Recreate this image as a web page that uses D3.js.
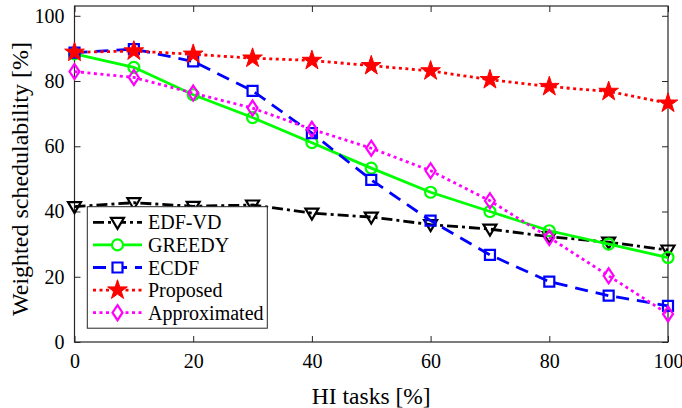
<!DOCTYPE html>
<html><head><meta charset="utf-8">
<script src="https://cdn.jsdelivr.net/npm/d3@7"></script>
<style>html,body{margin:0;padding:0;background:#fff;}svg{display:block;}
svg text{font-family:"Liberation Serif","DejaVu Serif",serif;}</style>
</head><body>
<svg id="chart" width="682" height="408"></svg>
<script>
const xValues = [0,10,20,30,40,50,60,70,80,90,100];
const xTicks = [0,20,40,60,80,100];
const yTicks = [0,20,40,60,80,100];
const seriesNames = ["EDF-VD","GREEDY","ECDF","Proposed","Approximated"];
const edfvd = [41.5,42.7,41.6,42,39.5,38.3,36,34.6,32.3,30.6,28.2];
const greedy = [88.3,84.2,75.8,68.8,61.1,53.3,45.9,40,34.1,30,25.9];
const ecdf = [88.7,89.8,86,77,64,49.7,37.2,26.7,18.5,14.2,11.1];
const proposed = [88.8,89.2,88.2,87,86.3,84.7,83.1,80.4,78.3,76.8,73.2];
const approximated = [82.9,81.1,76.3,71.7,65.2,59.4,52.5,43.3,32,20.3,8.6];
const xLabel = "HI tasks [%]";
const yLabel = "Weighted schedulability [%]";

const svg = d3.select("#chart");
const L = 74.5, R = 668, T = 6, B = 342;
const x = d3.scaleLinear().domain([0,100]).range([L,R]);
const y = d3.scaleLinear().domain([0,103]).range([B,T]);
const axisColor = "#262626";

// axes
const gx = svg.append("g").attr("transform",`translate(0,${B})`)
  .call(d3.axisBottom(x).tickValues(xTicks).tickSizeInner(-6).tickSizeOuter(0).tickPadding(12));
const gy = svg.append("g").attr("transform",`translate(${L},0)`)
  .call(d3.axisLeft(y).tickValues(yTicks).tickSizeInner(-6).tickSizeOuter(0).tickPadding(10));
const gxt = svg.append("g").attr("transform",`translate(0,${T})`)
  .call(d3.axisTop(x).tickValues(xTicks).tickSizeInner(-6).tickSizeOuter(0).tickFormat(""));
const gyr = svg.append("g").attr("transform",`translate(${R},0)`)
  .call(d3.axisRight(y).tickValues(yTicks).tickSizeInner(-6).tickSizeOuter(0).tickFormat(""));
[gx,gy,gxt,gyr].forEach(g=>{
  g.attr("font-family",null);
  g.select(".domain").remove();
  g.selectAll(".tick line").attr("stroke",axisColor).attr("stroke-width",1);
  g.selectAll("text").attr("font-size",20).attr("fill","#000");
});
// box
svg.append("rect").attr("x",L).attr("y",T).attr("width",R-L).attr("height",B-T)
  .attr("fill","none").attr("stroke",axisColor).attr("stroke-width",1.2);

// labels
svg.append("text").attr("x",(L+R)/2).attr("y",404).attr("text-anchor","middle")
  .attr("font-size",23.5).text(xLabel);
svg.append("text").attr("transform",`translate(28,${179}) rotate(-90)`).attr("text-anchor","middle")
  .attr("font-size",24).text(yLabel);

// marker shapes
function markerPath(type){
  if(type==="tri") return "M-6.5,-4.5L6.5,-4.5L0,6.5Z";
  if(type==="circle") return d3.symbol(d3.symbolCircle, Math.PI*5.5*5.5)();
  if(type==="square") return "M-5,-5L5,-5L5,5L-5,5Z";
  if(type==="star") return d3.symbol(d3.symbolStar, 120)();
  if(type==="diamond") return "M0,-7.5L5,0L0,7.5L-5,0Z";
}
const series = [
  {name:seriesNames[0], data:edfvd, color:"#000000", dash:"11,4,3,4", marker:"tri", fill:"none"},
  {name:seriesNames[1], data:greedy, color:"#00ff00", dash:null, marker:"circle", fill:"none"},
  {name:seriesNames[2], data:ecdf, color:"#0000ff", dash:"13,8", marker:"square", fill:"none"},
  {name:seriesNames[3], data:proposed, color:"#ff0000", dash:"3,3.5", marker:"star", fill:"#ff0000"},
  {name:seriesNames[4], data:approximated, color:"#ff00ff", dash:"3,3.5", marker:"diamond", fill:"none"}
];
const line = d3.line().x((d,i)=>x(xValues[i])).y(d=>y(d));
const plot = svg.append("g");
series.forEach(s=>{
  plot.append("path").attr("d",line(s.data)).attr("fill","none")
    .attr("stroke",s.color).attr("stroke-width",2.8)
    .attr("stroke-dasharray",s.dash);
  plot.selectAll(null).data(s.data).enter().append("path")
    .attr("d",markerPath(s.marker))
    .attr("transform",(d,i)=>`translate(${x(xValues[i])},${y(d)})`)
    .attr("fill",s.fill).attr("stroke",s.color).attr("stroke-width",s.marker==="star"?1:2.2);
});

// legend
const lg = svg.append("g");
lg.append("rect").attr("x",87.3).attr("y",206.7).attr("width",180).attr("height",121.5)
  .attr("fill","#fff").attr("stroke","#262626").attr("stroke-width",1);
series.forEach((s,i)=>{
  const yy = 222.3 + i*22.6;
  lg.append("line").attr("x1",93).attr("x2",142).attr("y1",yy).attr("y2",yy)
    .attr("stroke",s.color).attr("stroke-width",2.8).attr("stroke-dasharray",s.dash);
  lg.append("path").attr("d",markerPath(s.marker)).attr("transform",`translate(117.5,${yy})`)
    .attr("fill",s.fill==="none"?"#fff":s.fill).attr("stroke",s.color).attr("stroke-width",s.marker==="star"?1:2.2);
  lg.append("text").attr("x",148).attr("y",yy+7).attr("font-size",20).text(s.name);
});
</script>
</body></html>
